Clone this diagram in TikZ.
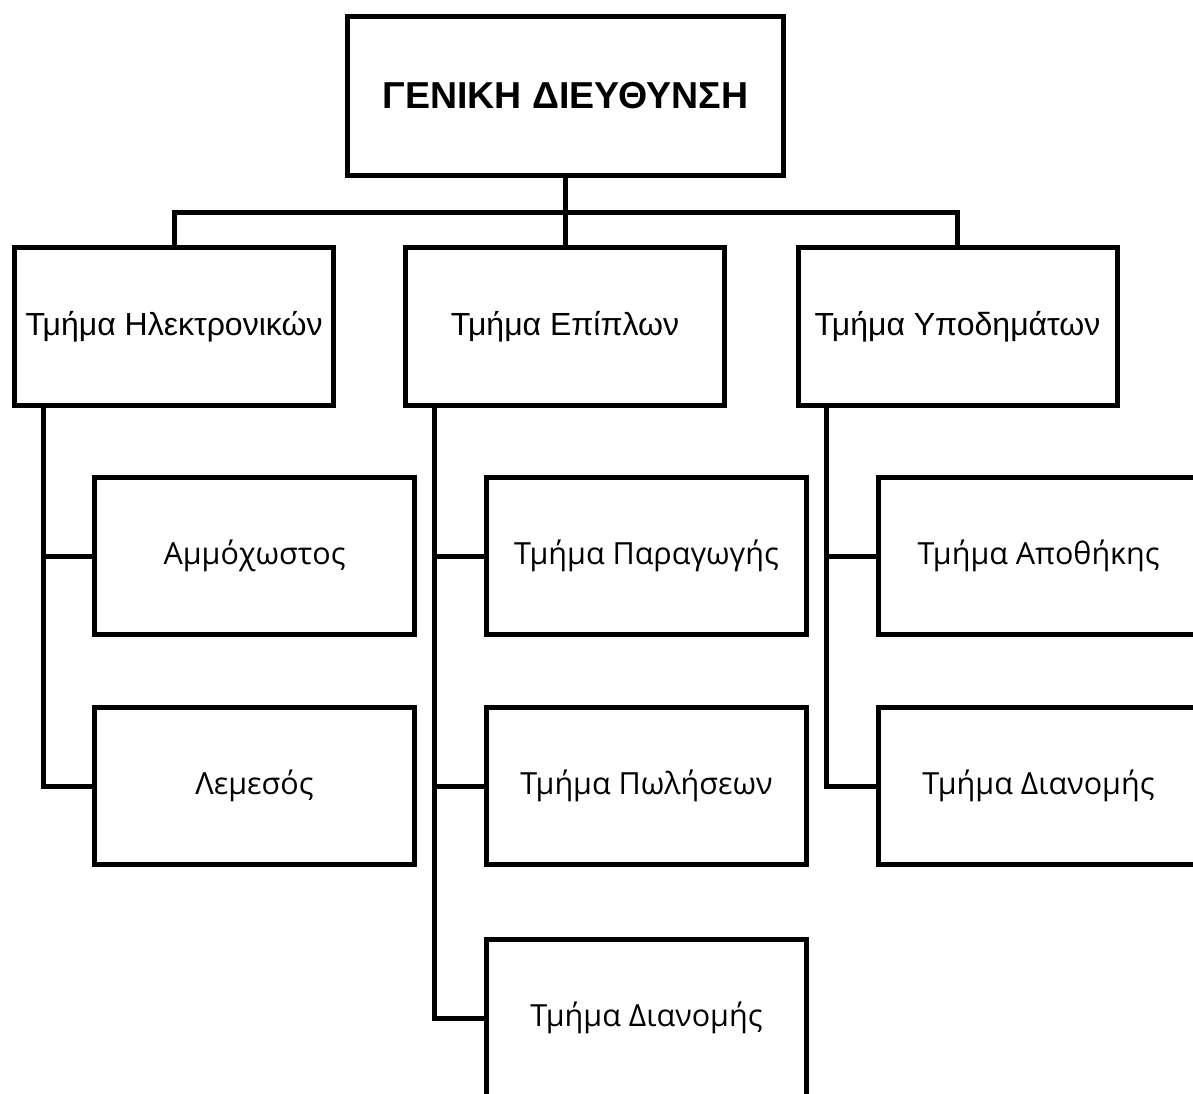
\documentclass[tikz,border=0pt]{standalone}
\usepackage{fontspec}
\setmainfont{Liberation Sans}
\newfontfamily\childfont{Open Sans}
\begin{document}
\begin{tikzpicture}[x=1pt,y=-1pt,
  box/.style={draw=black,line width=5pt,fill=white,rectangle,inner sep=0pt},
  topbox/.style={box,minimum width=436pt,minimum height=159pt,font=\fontsize{37.5}{42}\selectfont\bfseries},
  lonebox/.style={box,minimum width=319pt,minimum height=158pt,font=\fontsize{32}{36}\selectfont},
  childbox/.style={box,minimum width=320pt,minimum height=157pt,font=\childfont\fontsize{30.5}{34}\selectfont},
  conn/.style={draw=black,line width=5pt,line cap=rect,line join=miter}]
\useasboundingbox (0,0) rectangle (1193,1093);
\clip (0,0) rectangle (1193,1093);
\fill[white] (0,0) rectangle (1193,1093);
\coordinate (bar) at (0,212);
\node[topbox] (top) at (565.5,96) {ΓΕΝΙΚΗ ΔΙΕΥΘΥΝΣΗ};
\node[lonebox] (la) at (174,326.5) {Τμήμα Ηλεκτρονικών};
\node[lonebox] (lb) at (565,326.5) {Τμήμα Επίπλων};
\node[lonebox] (lc) at (957.5,326.5) {Τμήμα Υποδημάτων};
\node[childbox] (a1) at (254.5,556) {Αμμόχωστος};
\node[childbox] (a2) at (254.5,786) {Λεμεσός};
\node[childbox] (b1) at (646.5,556) {Τμήμα Παραγωγής};
\node[childbox] (b2) at (646.5,786) {Τμήμα Πωλήσεων};
\node[childbox] (b3) at (646.5,1018) {Τμήμα Διανομής};
\node[childbox] (c1) at (1038.5,556) {Τμήμα Αποθήκης};
\node[childbox] (c2) at (1038.5,786) {Τμήμα Διανομής};
\draw[conn] (top.south) -- (top.south |- bar);
\draw[conn] (la.north) -- (la.north |- bar) -- (lc.north |- bar) -- (lc.north);
\draw[conn] (lb.north) -- (lb.north |- bar);
\draw[conn] ([xshift=31pt]la.south west) |- (a2.west);
\draw[conn] (a1.west) -- ++(-47,0);
\draw[conn] ([xshift=31pt]lb.south west) |- (b3.west);
\draw[conn] (b1.west) -- ++(-47,0);
\draw[conn] (b2.west) -- ++(-47,0);
\draw[conn] ([xshift=31pt]lc.south west) |- (c2.west);
\draw[conn] (c1.west) -- ++(-47,0);
\end{tikzpicture}
\end{document}
